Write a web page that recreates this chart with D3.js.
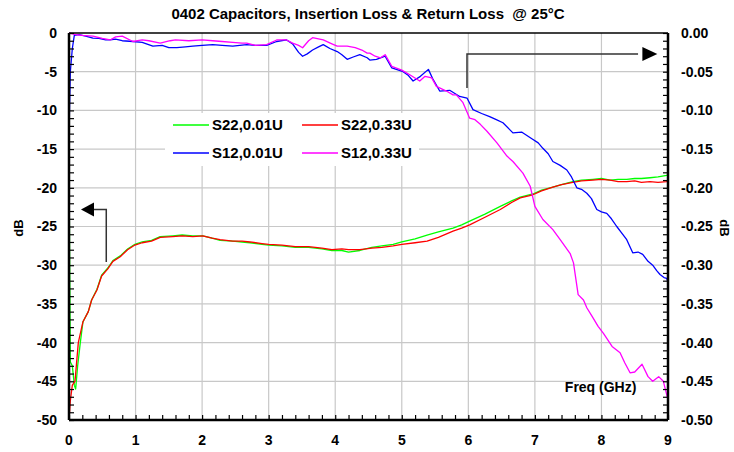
<!DOCTYPE html>
<html>
<head>
<meta charset="utf-8">
<script src="https://cdn.jsdelivr.net/npm/d3@7"></script>
<style>
  body { margin: 0; background: #fff; }
  svg { display: block; font-family: Arial, "Liberation Sans", sans-serif; font-weight: bold; }
</style>
</head>
<body>
<div id="chart"></div>
<script>
// data: [freq GHz, value]
const s22_001 = [[0,-16],[0.01,-30],[0.02,-42.5],[0.05,-43],[0.08,-45.5],[0.1,-46],[0.13,-43],[0.17,-40],[0.21,-37.3],
  [0.29,-36],[0.34,-34.5],[0.42,-33.1],[0.49,-31.3],[0.58,-30.4],[0.66,-29.4],[0.77,-28.8],[0.88,-27.9],[0.99,-27.3],
  [1.1,-27.0],[1.24,-26.8],[1.37,-26.3],[1.56,-26.2],[1.7,-26.1],[1.86,-26.2],[2.01,-26.2],[2.15,-26.5],[2.27,-26.8],
  [2.46,-26.9],[2.6,-27.0],[2.72,-27.1],[2.9,-27.3],[3.0,-27.4],[3.2,-27.5],[3.4,-27.7],[3.6,-27.7],[3.8,-27.9],
  [3.95,-28.1],[4.1,-28.1],[4.2,-28.3],[4.37,-28.1],[4.55,-27.7],[4.7,-27.5],[4.87,-27.3],[5.0,-27.0],[5.2,-26.6],
  [5.38,-26.1],[5.55,-25.7],[5.77,-25.2],[5.9,-24.8],[6.02,-24.3],[6.25,-23.4],[6.48,-22.4],[6.65,-21.7],[6.78,-21.2],
  [6.97,-20.8],[7.1,-20.3],[7.27,-19.9],[7.4,-19.6],[7.57,-19.2],[7.7,-19.0],[7.87,-18.9],[8.0,-18.8],[8.13,-19.0],
  [8.25,-18.9],[8.38,-18.9],[8.5,-18.8],[8.6,-18.8],[8.73,-18.7],[8.85,-18.6],[8.98,-18.4],[9.0,-18.3]];

const s22_033 = [[0,-50],[0.02,-47.5],[0.05,-45.5],[0.09,-45],[0.14,-40],[0.21,-37.3],[0.29,-36],[0.34,-34.5],
  [0.42,-33.2],[0.49,-31.4],[0.58,-30.5],[0.66,-29.5],[0.77,-28.9],[0.88,-28.0],[0.99,-27.4],[1.1,-27.1],[1.24,-26.9],
  [1.37,-26.4],[1.56,-26.3],[1.7,-26.2],[1.86,-26.3],[2.01,-26.2],[2.15,-26.5],[2.27,-26.7],[2.46,-26.9],[2.6,-26.9],
  [2.72,-27.0],[2.9,-27.2],[3.0,-27.3],[3.2,-27.4],[3.4,-27.6],[3.6,-27.6],[3.8,-27.8],[3.95,-28.0],[4.1,-27.9],
  [4.2,-28.0],[4.37,-28.0],[4.55,-27.8],[4.7,-27.7],[4.87,-27.5],[5.0,-27.3],[5.2,-27.1],[5.38,-26.9],[5.55,-26.4],
  [5.77,-25.6],[5.9,-25.2],[6.02,-24.8],[6.25,-23.8],[6.48,-22.8],[6.65,-21.9],[6.78,-21.3],[6.97,-20.9],[7.1,-20.4],
  [7.27,-19.9],[7.4,-19.6],[7.57,-19.3],[7.7,-19.1],[7.87,-19.0],[8.0,-18.9],[8.13,-19.0],[8.25,-19.2],[8.38,-19.2],
  [8.5,-19.1],[8.6,-19.3],[8.73,-19.2],[8.85,-19.3],[8.98,-19.2],[9.0,-19.1]];

const s12_001 = [[0,-0.13],[0.02,-0.05],[0.05,-0.02],[0.08,-0.003],[0.15,-0.002],[0.25,-0.004],[0.36,-0.0065],
  [0.45,-0.007],[0.55,-0.009],[0.62,-0.0087],[0.7,-0.008],[0.8,-0.010],[0.96,-0.011],[1.1,-0.012],[1.26,-0.017],
  [1.4,-0.016],[1.5,-0.019],[1.62,-0.019],[1.75,-0.018],[1.86,-0.017],[2.0,-0.016],[2.16,-0.015],[2.3,-0.016],
  [2.46,-0.017],[2.67,-0.015],[2.8,-0.016],[2.97,-0.016],[3.12,-0.011],[3.27,-0.009],[3.36,-0.014],[3.45,-0.025],
  [3.51,-0.030],[3.58,-0.027],[3.66,-0.022],[3.75,-0.018],[3.82,-0.015],[3.92,-0.020],[4.03,-0.024],[4.1,-0.028],
  [4.18,-0.034],[4.27,-0.031],[4.37,-0.028],[4.48,-0.032],[4.52,-0.035],[4.62,-0.034],[4.75,-0.030],[4.85,-0.045],
  [5.02,-0.050],[5.1,-0.055],[5.17,-0.062],[5.28,-0.056],[5.4,-0.047],[5.47,-0.060],[5.57,-0.075],[5.72,-0.074],
  [5.87,-0.082],[5.98,-0.084],[6.07,-0.099],[6.2,-0.104],[6.32,-0.108],[6.42,-0.112],[6.52,-0.116],[6.67,-0.129],
  [6.8,-0.128],[6.96,-0.137],[7.05,-0.142],[7.12,-0.149],[7.2,-0.156],[7.27,-0.166],[7.38,-0.171],[7.48,-0.177],
  [7.55,-0.186],[7.63,-0.200],[7.7,-0.202],[7.78,-0.207],[7.85,-0.214],[7.93,-0.228],[8.0,-0.231],[8.08,-0.233],
  [8.15,-0.240],[8.23,-0.250],[8.3,-0.258],[8.38,-0.267],[8.47,-0.284],[8.55,-0.283],[8.62,-0.286],[8.7,-0.295],
  [8.77,-0.300],[8.83,-0.307],[8.88,-0.312],[8.94,-0.316],[8.98,-0.317],[9.0,-0.322]];

const s12_033 = [[0,0],[0.1,-0.002],[0.2,-0.003],[0.36,-0.004],[0.5,-0.007],[0.62,-0.009],[0.7,-0.005],[0.8,-0.004],
  [0.96,-0.011],[1.1,-0.009],[1.2,-0.010],[1.37,-0.013],[1.52,-0.010],[1.6,-0.009],[1.8,-0.010],[2.0,-0.009],
  [2.16,-0.010],[2.3,-0.011],[2.46,-0.012],[2.6,-0.013],[2.67,-0.013],[2.8,-0.016],[2.97,-0.015],[3.12,-0.009],
  [3.27,-0.009],[3.36,-0.013],[3.45,-0.016],[3.51,-0.019],[3.6,-0.010],[3.66,-0.006],[3.82,-0.009],[3.95,-0.014],
  [4.03,-0.017],[4.18,-0.017],[4.3,-0.019],[4.4,-0.022],[4.48,-0.026],[4.52,-0.026],[4.6,-0.030],[4.68,-0.032],
  [4.75,-0.028],[4.85,-0.043],[5.0,-0.048],[5.12,-0.054],[5.27,-0.062],[5.35,-0.056],[5.45,-0.058],[5.52,-0.069],
  [5.67,-0.075],[5.77,-0.080],[5.82,-0.080],[5.92,-0.090],[6.02,-0.110],[6.1,-0.112],[6.18,-0.118],[6.28,-0.127],
  [6.43,-0.142],[6.58,-0.159],[6.67,-0.166],[6.82,-0.181],[6.93,-0.198],[7.0,-0.224],[7.12,-0.241],[7.27,-0.254],
  [7.38,-0.267],[7.53,-0.285],[7.58,-0.297],[7.65,-0.338],[7.73,-0.345],[7.78,-0.355],[7.86,-0.366],[7.95,-0.379],
  [8.03,-0.388],[8.16,-0.405],[8.28,-0.413],[8.35,-0.426],[8.43,-0.439],[8.5,-0.438],[8.61,-0.428],[8.7,-0.444],
  [8.77,-0.450],[8.86,-0.444],[8.93,-0.450],[9.0,-0.474]];

const xTicks = [0,1,2,3,4,5,6,7,8,9];
const leftTicks = [0,-5,-10,-15,-20,-25,-30,-35,-40,-45,-50];
const rightTicks = [0,-0.05,-0.10,-0.15,-0.20,-0.25,-0.30,-0.35,-0.40,-0.45,-0.50];

const series = [
  {name: 'S22,0.01U', data: s22_001, color: '#00ff00', axis: 'left'},
  {name: 'S22,0.33U', data: s22_033, color: '#ff0000', axis: 'left'},
  {name: 'S12,0.01U', data: s12_001, color: '#0000ff', axis: 'right'},
  {name: 'S12,0.33U', data: s12_033, color: '#ff00ff', axis: 'right'}
];

const W = 734, H = 452;
const margin = {top: 33, right: 66, bottom: 32, left: 69};
const width = W - margin.left - margin.right;
const height = H - margin.top - margin.bottom;

const svg = d3.select('#chart').append('svg').attr('width', W).attr('height', H);
const g = svg.append('g').attr('transform', `translate(${margin.left},${margin.top})`);

const x = d3.scaleLinear().domain([0, 9]).range([0, width]);
const yL = d3.scaleLinear().domain([-50, 0]).range([height, 0]);
const yR = d3.scaleLinear().domain([-0.5, 0]).range([height, 0]);

// grid
g.append('g').selectAll('line').data(xTicks.slice(1, -1)).join('line')
  .attr('x1', d => x(d)).attr('x2', d => x(d)).attr('y1', 0).attr('y2', height)
  .attr('stroke', '#c8c8c8').attr('stroke-width', 1.2);
g.append('g').selectAll('line').data(leftTicks.slice(1, -1)).join('line')
  .attr('x1', 0).attr('x2', width).attr('y1', d => yL(d)).attr('y2', d => yL(d))
  .attr('stroke', '#c8c8c8').attr('stroke-width', 1.2);

// legend background (covers grid)
const leg = g.append('g').attr('transform', 'translate(96,80)');
leg.append('rect').attr('x', 0).attr('y', 0).attr('width', 254).attr('height', 53).attr('fill', '#fff');

// lines
svg.append('clipPath').attr('id', 'clip').append('rect')
  .attr('x', 0).attr('y', -1).attr('width', width).attr('height', height + 2);
const plot = g.append('g').attr('clip-path', 'url(#clip)');
series.forEach(s => {
  const ys = s.axis === 'left' ? yL : yR;
  plot.append('path').datum(s.data)
    .attr('fill', 'none').attr('stroke', s.color).attr('stroke-width', 1.3)
    .attr('stroke-linejoin', 'round')
    .attr('d', d3.line().x(d => x(d[0])).y(d => ys(d[1])));
});

// legend entries
series.forEach((s, i) => {
  const col = i % 2, row = Math.floor(i / 2);
  const lx = 8 + col * 129, ly = 12 + row * 28;
  leg.append('line').attr('x1', lx).attr('x2', lx + 36).attr('y1', ly).attr('y2', ly)
    .attr('stroke', s.color).attr('stroke-width', 1.4);
  leg.append('text').attr('x', lx + 39).attr('y', ly).attr('dy', '0.35em')
    .attr('font-size', 15).text(s.name);
});

// axes
const xAxis = d3.axisBottom(x).tickValues(d3.range(0, 9.01, 0.2)).tickSize(-5).tickFormat('');
g.append('g').attr('transform', `translate(0,${height})`).call(xAxis);
const yAxisL = d3.axisLeft(yL).tickValues(d3.range(-50, 0.1, 1)).tickSize(-5).tickFormat('');
g.append('g').call(yAxisL);
const yAxisR = d3.axisRight(yR).tickValues(d3.range(-0.5, 0.001, 0.01)).tickSize(-5).tickFormat('');
g.append('g').attr('transform', `translate(${width},0)`).call(yAxisR);
g.selectAll('.tick line').attr('stroke', '#000').attr('stroke-width', 1.2);
g.selectAll('.domain').remove();

// frame
g.append('line').attr('x1', 0).attr('x2', width).attr('y1', 0).attr('y2', 0).attr('stroke', '#000').attr('stroke-width', 1.5);
g.append('line').attr('x1', 0).attr('x2', 0).attr('y1', 0).attr('y2', height).attr('stroke', '#000').attr('stroke-width', 2.5);
g.append('line').attr('x1', 0).attr('x2', width).attr('y1', height).attr('y2', height).attr('stroke', '#000').attr('stroke-width', 2.5);
g.append('line').attr('x1', width).attr('x2', width).attr('y1', 0).attr('y2', height).attr('stroke', '#000').attr('stroke-width', 2.5);

// tick labels
g.append('g').selectAll('text').data(leftTicks).join('text')
  .attr('x', -12).attr('y', d => yL(d)).attr('dy', '0.35em').attr('text-anchor', 'end')
  .attr('font-size', 14).text(d => d);
g.append('g').selectAll('text').data(rightTicks).join('text')
  .attr('x', width + 13).attr('y', d => yR(d)).attr('dy', '0.35em').attr('text-anchor', 'start')
  .attr('font-size', 14).text(d => d3.format('.2f')(d).replace('−', '-'));
g.append('g').selectAll('text').data(xTicks).join('text')
  .attr('x', d => x(d)).attr('y', height + 20).attr('dy', '0.35em').attr('text-anchor', 'middle')
  .attr('font-size', 14).text(d => d);

// titles
svg.append('text').attr('x', 368).attr('y', 14).attr('dy', '0.35em').attr('text-anchor', 'middle')
  .attr('font-size', 15).text('0402 Capacitors, Insertion Loss & Return Loss  @ 25°C')
  .style('white-space', 'pre');
svg.append('text').attr('transform', 'translate(18,228) rotate(-90)').attr('dy', '0.35em')
  .attr('text-anchor', 'middle').attr('font-size', 13).text('dB');
svg.append('text').attr('transform', 'translate(725,228) rotate(90)').attr('dy', '0.35em')
  .attr('text-anchor', 'middle').attr('font-size', 13).text('dB');
g.append('text').attr('x', x(7.45)).attr('y', yL(-45.8)).attr('dy', '0.35em')
  .attr('font-size', 14).text('Freq (GHz)');

// arrows
const arrowL = g.append('g');
arrowL.append('path').attr('d', `M${x(0.56)},${yL(-29.6)} V${yL(-22.8)} H${x(0.35)}`)
  .attr('fill', 'none').attr('stroke', '#333').attr('stroke-width', 1.5);
arrowL.append('path').attr('d', `M${x(0.18)},${yL(-22.8)} l13,-7 v14 z`).attr('fill', '#000');
const arrowR = g.append('g');
arrowR.append('path').attr('d', `M${x(5.98)},${yL(-7.1)} V${yL(-2.7)} H${x(8.55)}`)
  .attr('fill', 'none').attr('stroke', '#333').attr('stroke-width', 1.5);
arrowR.append('path').attr('d', `M${x(8.84)},${yL(-2.7)} l-15,-7 v14 z`).attr('fill', '#000');
</script>
</body>
</html>
